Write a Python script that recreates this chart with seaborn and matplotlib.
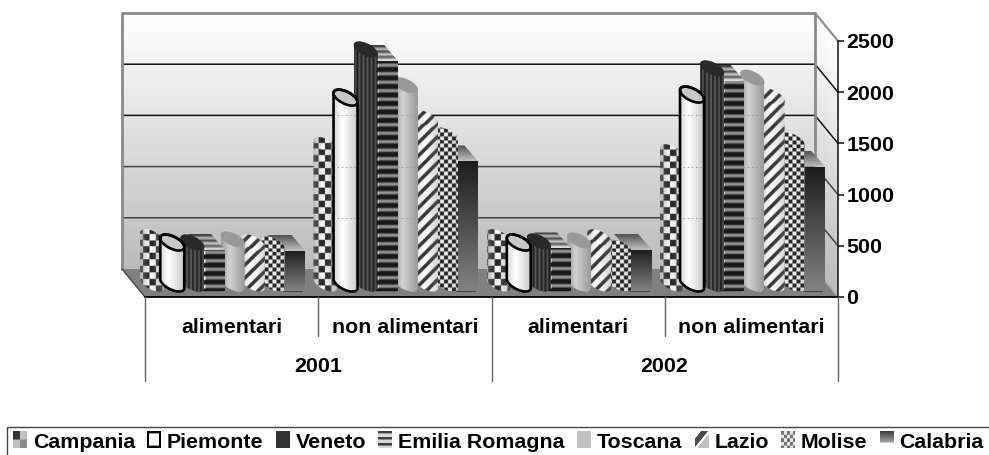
import numpy as np
import pandas as pd
import matplotlib
matplotlib.use('Agg')
import matplotlib.pyplot as plt
import seaborn as sns
from matplotlib.patches import Polygon, Patch
from matplotlib.image import BboxImage
from matplotlib.legend_handler import HandlerBase
from matplotlib.transforms import Bbox, TransformedBbox

# dati
regioni = ['Campania', 'Piemonte', 'Veneto', 'Emilia Romagna', 'Toscana', 'Lazio', 'Molise', 'Calabria']
gruppi = ['alimentari', 'non alimentari', 'alimentari', 'non alimentari']
anni = ['2001', '2002']
alim_2001 = [450, 400, 400, 410, 430, 400, 380, 400]
non_alim_2001 = [1350, 1815, 2285, 2255, 1935, 1610, 1445, 1270]
alim_2002 = [450, 400, 410, 420, 420, 450, 350, 410]
non_alim_2002 = [1280, 1845, 2100, 2060, 2010, 1825, 1395, 1220]
tick_valori = [0, 500, 1000, 1500, 2000, 2500]

righe = []
for i, serie in enumerate([alim_2001, non_alim_2001, alim_2002, non_alim_2002]):
    for r, v in zip(regioni, serie):
        righe.append({'gruppo': str(i), 'regione': r, 'valore': v})
df = pd.DataFrame(righe)

sns.set_theme(style='white')
plt.rcParams['font.family'] = ['Liberation Sans', 'DejaVu Sans']
plt.rcParams['font.weight'] = 'bold'

W, H = 989, 455
FONT = 15.4
fig = plt.figure(figsize=(W / 100, H / 100), dpi=100)


def box(x0, y0, x1, y1):
    # rettangolo in pixel (y dall'alto) -> coordinate figura
    return [x0 / W, 1 - y1 / H, (x1 - x0) / W, (y1 - y0) / H]


# sfondo, barre, assi frontali, sovrapposizione in pixel
bg = fig.add_axes([0, 0, 1, 1], zorder=0)
ax = fig.add_axes(box(136, 35.5, 829, 291.5), zorder=1)
front = fig.add_axes(box(145, 41, 838, 297), zorder=2)
ov = fig.add_axes([0, 0, 1, 1], zorder=3)
for a in (bg, ov):
    a.set_xlim(0, W)
    a.set_ylim(H, 0)
    a.set_autoscale_on(False)
    a.axis('off')
    a.patch.set_alpha(0)

# pareti del grafico
GRIGIO = '#8a8a8a'
yy, xx = np.mgrid[13:297, 815:838]
grad = np.clip(1.0 - 0.27 * (yy - 28 * (xx - 815) / 23 - 13) / 256, 0, 1)
im = bg.imshow(grad, cmap='gray', vmin=0, vmax=1, extent=[815, 838, 297, 13], aspect='auto', zorder=1)
im.set_clip_path(Polygon([(815, 13), (838, 41), (838, 297), (815, 269)], transform=bg.transData))
parete = np.linspace(1.0, 0.73, 256).reshape(-1, 1)
bg.imshow(parete, cmap='gray', vmin=0, vmax=1, extent=[122, 815, 269, 13], aspect='auto', zorder=1)
bg.add_patch(Polygon([(122, 269), (815, 269), (838, 297), (145, 297)], fc='#808080', ec='none', zorder=2))
for v in tick_valori[1:-1]:
    y = 297 - v * 256 / 2500
    col = '#111111' if v > 1000 else '#444444'
    bg.plot([122, 815, 838], [y - 28, y - 28, y], color=col, lw=1.1, zorder=3)
bg.plot([122, 122, 815, 815], [269, 13, 13, 269], color=GRIGIO, lw=2, zorder=4)
bg.plot([815, 838], [13, 41], color=GRIGIO, lw=1.5, zorder=4)
bg.plot([122, 145], [269, 297], color='#444444', lw=1, zorder=4)
bg.plot([815, 838], [269, 297], color='#aaaaaa', lw=1, zorder=4)

# barre
toni = ['#888888', '#eeeeee', '#333333', '#666666', '#bbbbbb', '#999999', '#777777', '#444444']
sns.barplot(data=df, x='gruppo', y='valore', hue='regione', hue_order=regioni, palette=toni,
            width=0.93, legend=False, saturation=1, ax=ax, linewidth=0)
ax.set_xlim(-0.5, 3.5)
ax.set_ylim(0, 2500)
ax.axis('off')
ax.patch.set_alpha(0)


def tessitura(nome, X, Y, u):
    ombra = np.interp(u, [0, .42, 1], [.72, 1, .72])
    if nome == 'Campania':
        c = (np.floor(X / 6.5) + np.floor(Y / 6.5)) % 2
        return (.14 + .7 * (1 - ombra)) * (1 - c) + ombra * c
    if nome == 'Piemonte':
        return np.interp(u, [0, .35, 1], [.84, 1, .78])
    if nome == 'Veneto':
        return (.12 + .16 * (np.floor(X / 2) % 2)) * (ombra + .3)
    if nome == 'Emilia Romagna':
        f = (Y % 8.5) / 8.5
        v = np.where(f < .42, .1, .1 + .5 * np.sin((f - .42) / .58 * np.pi))
        return np.where((u < .14) & (f > .55), 1, v)
    if nome == 'Toscana':
        return np.interp(u, [0, .35, 1], [.6, .82, .6])
    if nome == 'Lazio':
        c = ((X * 1.0 + Y) % 13) < 5
        return np.where(c, .2 + .3 * (1 - ombra), .4 + .6 * ombra)
    if nome == 'Molise':
        c = (np.floor(X / 4) + np.floor(Y / 4)) % 2
        return np.where(c > 0, .15, .55 + .4 * ombra)
    # Calabria: gradiente verticale
    s = (Y - Y.min()) / max(np.ptp(Y), 1)
    return .11 + .4 * s


TAPPO = {'Piemonte': .78, 'Veneto': .16, 'Toscana': .6}
CILINDRI = ['Campania', 'Piemonte', 'Veneto', 'Toscana', 'Lazio', 'Molise']
ordine = ['Calabria', 'Molise', 'Lazio', 'Toscana', 'Emilia Romagna', 'Veneto', 'Campania', 'Piemonte']
LARGH = 24
ALT_ELL = 16


def ellisse(cx, cy, t):
    return np.c_[cx + LARGH / 2 * np.cos(t), cy + ALT_ELL / 2 * np.sin(t + 0.6)]


def immagine(nome, x0, x1, y0, y1, clip, z):
    ys, xs = np.mgrid[y0:y1:0.5, x0:x1:0.5]
    arr = tessitura(nome, xs, ys, (xs - x0) / (x1 - x0))
    i = ov.imshow(arr, cmap='gray', vmin=0, vmax=1, extent=[x0, x1, y1, y0], aspect='auto',
                  interpolation='bilinear', zorder=z)
    i.set_clip_path(clip)


fig.canvas.draw()
altezza = fig.bbox.height
for zbase, nome in enumerate(ordine):
    cont = ax.containers[regioni.index(nome)]
    for bar in cont:
        cx_d = bar.get_x() + bar.get_width() / 2
        (xc, ytop) = ax.transData.transform((cx_d, bar.get_height()))
        (xc, ybase) = ax.transData.transform((cx_d, 0))
        ytop, ybase = altezza - ytop, altezza - ybase
        xl, xr = xc - LARGH / 2, xc + LARGH / 2
        z = 10 + zbase
        if nome in CILINDRI:
            sup = ellisse(xc, ytop - ALT_ELL / 2, np.linspace(np.pi, 2 * np.pi, 40))
            inf = ellisse(xc, ybase - ALT_ELL / 2, np.linspace(0, np.pi, 40))
            corpo = Polygon(np.r_[sup, inf], transform=ov.transData)
            immagine(nome, xl, xr, ytop - ALT_ELL - 2, ybase + 1, corpo, z)
            cap = ellisse(xc, ytop - ALT_ELL / 2, np.linspace(0, 2 * np.pi, 80))
            if nome in TAPPO:
                g = TAPPO[nome]
                ov.add_patch(Polygon(cap, fc=(g, g, g), ec='none', zorder=z + .1))
            else:
                immagine(nome, xl, xr, ytop - ALT_ELL - 2, ytop + 2,
                         Polygon(cap, transform=ov.transData), z + .1)
            # griglia che traspare dalle barre
            if nome in ['Piemonte', 'Toscana']:
                for v in tick_valori[1:-1]:
                    yg = 297 - v * 256 / 2500 - 28
                    if yg > ytop:
                        ov.plot([xl + 3, xr - 3], [yg, yg], color='#999999', lw=.6, ls=(0, (2, 3)), zorder=z + .05)
            if nome == 'Piemonte':
                ov.add_patch(Polygon(np.r_[sup, inf], fc='none', ec='black', lw=1.9, zorder=z + .2))
                ov.add_patch(Polygon(cap, fc='none', ec='black', lw=1.9, zorder=z + .2))
            bar.set_clip_path(Polygon(np.r_[sup, inf], transform=ov.transData))
        else:
            xr_f = xr
            xl_f = xr - 23 if nome == 'Emilia Romagna' else xl
            top = Polygon([(xl_f, ytop), (xr_f, ytop), (xr_f - 14, ytop - 16), (xl_f - 14, ytop - 16)],
                          transform=ov.transData)
            if nome == 'Calabria':
                ys = np.linspace(.33, .75, 16).reshape(-1, 1)
                i = ov.imshow(ys, cmap='gray', vmin=0, vmax=1, extent=[xl_f - 14, xr_f, ytop, ytop - 16],
                              aspect='auto', zorder=z)
            else:
                ys = np.array([[.25], [.75], [.3], [.8], [.35], [.85]])
                i = ov.imshow(ys, cmap='gray', vmin=0, vmax=1, extent=[xl_f - 14, xr_f, ytop, ytop - 16],
                              aspect='auto', zorder=z, interpolation='bilinear')
            i.set_clip_path(top)
            fronte = Polygon([(xl_f, ytop), (xr_f, ytop), (xr_f, ybase), (xl_f, ybase)], transform=ov.transData)
            immagine(nome, xl_f, xr_f, ytop, ybase, fronte, z + .1)

# asse frontale: valori a destra, categorie sotto
front.set_xlim(-0.5, 3.5)
front.set_ylim(0, 2500)
front.patch.set_alpha(0)
for s in ['top', 'left']:
    front.spines[s].set_visible(False)
front.spines['right'].set_linewidth(1.1)
front.spines['right'].set_color('#111111')
front.spines['bottom'].set_linewidth(1.3)
front.spines['bottom'].set_color('black')
front.yaxis.tick_right()
front.set_yticks(tick_valori)
front.set_yticklabels([str(v) for v in tick_valori], fontsize=FONT, fontweight='bold', color='black')
front.tick_params(axis='y', length=4, width=1.1, color='#111111', pad=2, right=True)
front.set_xticks(range(4))
front.set_xticklabels(gruppi, fontsize=FONT, fontweight='bold', color='black')
front.tick_params(axis='x', length=0, pad=15, bottom=False)
for a_i, anno in enumerate(anni):
    ov.text(318 + a_i * 346, 366, anno, ha='center', va='center', fontsize=FONT, fontweight='bold', color='black')
for i in range(5):
    x = 145 + i * 173.25
    y1 = 381 if i % 2 == 0 else 336
    ov.plot([x, x], [297, y1], color='#666666', lw=1, zorder=2)


# legenda con campioni di tessitura
class Campione(HandlerBase):
    def __init__(self, nome):
        super().__init__()
        self.nome = nome

    def create_artists(self, legend, orig_handle, xd, yd, width, height, fontsize, trans):
        ys, xs = np.mgrid[0:14.0:0.5, 0:14.0:0.5]
        if self.nome == 'Campania':
            arr = np.where((xs < 7) == (ys < 7), .2, .75)
            arr[(xs >= 7) & (ys >= 7)] = .55
        elif self.nome == 'Piemonte':
            arr = np.where((xs < 2) | (xs >= 12) | (ys < 2) | (ys >= 12), 0, 1.)
        elif self.nome == 'Veneto':
            arr = np.full(xs.shape, .2)
        elif self.nome == 'Emilia Romagna':
            arr = np.where(ys % 5 < 2, .25, .85)
        elif self.nome == 'Toscana':
            arr = np.full(xs.shape, .75)
        elif self.nome == 'Lazio':
            arr = np.where(xs + ys < 13, .3, np.where(xs + ys < 16, 1., .75))
            arr[xs + ys < 6] = 1.
        elif self.nome == 'Molise':
            arr = .45 + .45 * ((np.floor(xs / 3) + np.floor(ys / 3)) % 2)
        else:
            arr = .25 + .6 * ys / 14
            arr[ys > 9] = 1.
        img = BboxImage(TransformedBbox(Bbox([[0, 0], [width, height * 1.1]]), trans),
                        cmap='gray', norm=plt.Normalize(0, 1), interpolation='bilinear')
        img.set_data(arr)
        return [img]


maniglie = [Patch(label=r) for r in regioni]
leg = fig.legend(handles=maniglie, labels=regioni, ncol=8,
                 handler_map={m: Campione(r) for m, r in zip(maniglie, regioni)},
                 loc='lower left', bbox_to_anchor=(7 / W, -3 / H), borderaxespad=0,
                 prop={'family': 'Liberation Sans', 'weight': 'bold', 'size': FONT},
                 handlelength=0.65, handleheight=0.72, handletextpad=0.27, columnspacing=0.58,
                 borderpad=0.28, frameon=True, fancybox=False, edgecolor='#444444', framealpha=1)
leg.get_frame().set_linewidth(1)
for t in leg.get_texts():
    t.set_color('black')
leg.set_zorder(5)

fig.savefig('out.png', dpi=100, facecolor='white')
